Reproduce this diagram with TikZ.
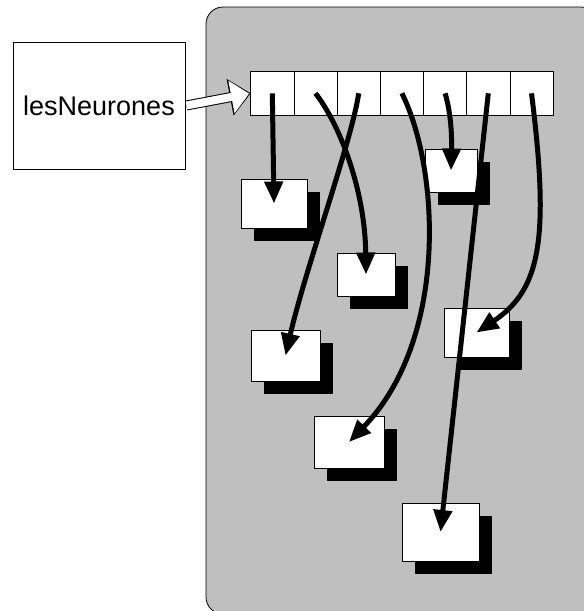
\documentclass[tikz,border=0pt]{standalone}
\usepackage{fontspec}
\setmainfont{Liberation Sans}
\usetikzlibrary{arrows.meta,shadows}

\begin{document}
\begin{tikzpicture}[x=1pt,y=-1pt,>={Triangle[length=22pt,width=18pt]},
  cell/.style={draw,fill=white,line width=0.8pt,minimum width=43.2pt,minimum height=43.3pt,inner sep=0pt,outer sep=0pt},
  neurone/.style={draw,fill=white,line width=0.8pt,inner sep=0pt,outer sep=0pt,
    drop shadow={shadow xshift=13pt,shadow yshift=-13pt,fill=black,opacity=1}},
  pointer/.style={->,line width=5pt}]
\useasboundingbox (0,0) rectangle (584,611);
\draw[fill=black!25,line width=0.8pt,rounded corners=17pt] (206,7) rectangle (598,614);
\node[draw,fill=white,line width=0.8pt,minimum width=172pt,minimum height=127pt,font=\fontsize{27}{32}\selectfont] (nom) at (99,105.5) {lesNeurones};
\foreach \i in {1,...,7}
  \node[cell] (c\i) at ({250.7+43.2*(\i-0.5)},93.3) {};
\draw[line width=10pt,-{Triangle[length=21pt,width=36pt]}] ([xshift=1pt]nom.east) -- (c1.west);
\draw[white,line width=8pt,-{Triangle[length=18pt,width=32pt]},shorten >=1.6pt] ([xshift=1pt]nom.east) -- (c1.west);
\node[neurone,minimum width=66pt,minimum height=49pt] (n1) at (274,203.5) {};
\node[neurone,minimum width=58pt,minimum height=43pt] (n2) at (366,274.5) {};
\node[neurone,minimum width=69pt,minimum height=51pt] (n3) at (285.5,355.5) {};
\node[neurone,minimum width=70pt,minimum height=52pt] (n4) at (349,442) {};
\node[neurone,minimum width=52pt,minimum height=43pt] (n5) at (451,170.5) {};
\node[neurone,minimum width=77pt,minimum height=58pt] (n6) at (440.5,532) {};
\node[neurone,minimum width=65pt,minimum height=49pt] (n7) at (476.5,332.5) {};
\draw[pointer] (c1.center) -- (n1.center);
\draw[pointer] (c2.center) .. controls (340,125) and (365,190) .. (n2.center);
\draw[pointer] (c3.center) .. controls (352,140) and (305,270) .. (n3.center);
\draw[pointer] (c4.center) .. controls (440,170) and (448,340) .. (n4.center);
\draw[pointer] (c5.center) .. controls (450,110) and (452,130) .. (n5.center);
\draw[pointer] (c6.center) -- (n6.center);
\draw[pointer] (c7.center) .. controls (550,240) and (540,290) .. (n7.center);
\end{tikzpicture}
\end{document}
